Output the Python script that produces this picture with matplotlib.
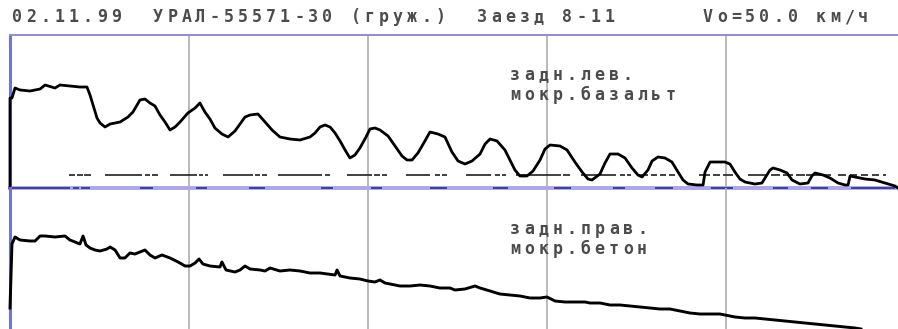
import matplotlib
matplotlib.use('Agg')
import matplotlib.pyplot as plt

# time axis in seconds, force in kN
t_left = [0.000, 0.000, 0.011, 0.028, 0.056, 0.112, 0.168, 0.196, 0.251, 0.279, 0.335, 0.391,
          0.430, 0.447, 0.464, 0.486, 0.503, 0.531, 0.559, 0.615, 0.659, 0.687, 0.726, 0.754,
          0.782, 0.810, 0.838, 0.866, 0.894, 0.922, 0.950, 0.994, 1.034, 1.061, 1.089, 1.117,
          1.145, 1.184, 1.218, 1.257, 1.313, 1.341, 1.385, 1.425, 1.464, 1.508, 1.564, 1.620,
          1.676, 1.704, 1.732, 1.760, 1.788, 1.816, 1.844, 1.872, 1.899, 1.927, 1.955, 1.989,
          2.011, 2.039, 2.067, 2.112, 2.151, 2.190, 2.218, 2.246, 2.279, 2.318, 2.346, 2.391,
          2.430, 2.469, 2.503, 2.542, 2.581, 2.626, 2.654, 2.682, 2.721, 2.765, 2.793, 2.821,
          2.849, 2.888, 2.922, 2.961, 2.989, 3.017, 3.073, 3.112, 3.156, 3.196, 3.229, 3.251,
          3.296, 3.324, 3.352, 3.397, 3.436, 3.475, 3.508, 3.531, 3.564, 3.587, 3.620, 3.659,
          3.698, 3.732, 3.760, 3.788, 3.838, 3.872, 3.883, 3.911, 3.939, 3.994, 4.022, 4.050,
          4.078, 4.106, 4.162, 4.201, 4.218, 4.246, 4.263, 4.302, 4.341, 4.369, 4.413, 4.458,
          4.480, 4.497, 4.542, 4.581, 4.626, 4.665, 4.682, 4.693, 4.721, 4.777, 4.832, 4.888,
          4.944, 4.961]
f_left = [0.0, 9.0, 9.0, 10.0, 9.8, 9.7, 9.9, 10.3, 10.0, 10.3, 10.2, 10.1,
          10.1, 9.3, 8.3, 7.0, 6.5, 6.1, 6.4, 6.6, 7.1, 7.6, 8.8, 8.9,
          8.5, 8.2, 7.3, 6.6, 5.8, 6.1, 6.6, 7.5, 8.0, 8.5, 7.6, 6.9,
          6.0, 5.4, 5.1, 5.7, 7.1, 7.3, 7.4, 6.6, 5.8, 5.1, 4.9, 4.8,
          5.1, 5.5, 6.1, 6.3, 6.1, 5.5, 4.7, 3.8, 3.0, 3.3, 4.0, 5.1,
          5.9, 6.0, 5.8, 5.2, 4.2, 3.2, 2.8, 2.8, 3.5, 4.7, 5.6, 5.4,
          5.1, 3.6, 2.7, 2.4, 2.7, 3.4, 4.4, 4.9, 4.7, 3.8, 2.8, 1.8,
          1.2, 1.2, 1.7, 2.8, 3.9, 4.3, 4.2, 3.8, 2.6, 1.6, 0.9, 0.8,
          1.4, 2.5, 3.4, 3.4, 3.0, 2.0, 1.3, 1.1, 1.8, 2.7, 3.1, 3.0,
          2.6, 1.6, 0.8, 0.4, 0.3, 0.3, 1.6, 2.6, 2.6, 2.6, 2.4, 1.6,
          0.9, 0.6, 0.4, 0.5, 1.0, 1.8, 2.0, 1.8, 1.5, 0.8, 0.4, 0.5,
          1.2, 1.5, 1.3, 1.0, 0.5, 0.3, 0.3, 1.2, 1.1, 0.9, 0.8, 0.5,
          0.2, 0.0]

t_right = [0.000, 0.011, 0.028, 0.056, 0.112, 0.140, 0.168, 0.196, 0.251, 0.307, 0.335, 0.363,
           0.391, 0.408, 0.425, 0.447, 0.475, 0.503, 0.542, 0.559, 0.587, 0.615, 0.642, 0.670,
           0.698, 0.754, 0.782, 0.810, 0.849, 0.894, 0.939, 0.978, 1.006, 1.034, 1.056, 1.078,
           1.117, 1.173, 1.184, 1.207, 1.257, 1.285, 1.313, 1.341, 1.397, 1.425, 1.453, 1.508,
           1.564, 1.620, 1.676, 1.732, 1.816, 1.827, 1.844, 1.899, 1.955, 2.000, 2.039, 2.067,
           2.095, 2.151, 2.179, 2.235, 2.291, 2.346, 2.402, 2.458, 2.486, 2.542, 2.598, 2.626,
           2.682, 2.737, 2.793, 2.849, 2.905, 2.961, 3.000, 3.045, 3.101, 3.156, 3.212, 3.240,
           3.296, 3.352, 3.408, 3.464, 3.520, 3.575, 3.631, 3.687, 3.743, 3.799, 3.855, 3.911,
           3.966, 3.994, 4.050, 4.106, 4.162, 4.218, 4.274, 4.330, 4.385, 4.441, 4.497, 4.553,
           4.609, 4.665, 4.721, 4.754]
f_right = [3.3, 9.7, 10.4, 10.1, 10.0, 10.0, 10.5, 10.5, 10.4, 10.5, 10.1, 9.9,
           9.7, 10.5, 9.6, 9.3, 9.1, 9.0, 9.2, 9.4, 9.1, 8.3, 8.3, 8.8,
           8.7, 9.1, 8.6, 8.3, 8.6, 8.3, 7.9, 7.5, 7.5, 7.8, 8.2, 7.7,
           7.5, 7.4, 7.9, 7.1, 6.9, 7.1, 7.5, 7.2, 7.1, 7.0, 7.3, 7.0,
           7.1, 7.0, 6.8, 6.8, 6.6, 7.1, 6.5, 6.3, 6.2, 6.0, 5.9, 6.1,
           5.8, 5.6, 5.5, 5.5, 5.6, 5.5, 5.3, 5.3, 5.1, 5.2, 5.5, 5.3,
           5.0, 4.7, 4.6, 4.5, 4.3, 4.3, 4.4, 4.0, 3.9, 3.9, 3.9, 3.8,
           3.8, 3.6, 3.6, 3.5, 3.4, 3.3, 3.2, 3.2, 3.0, 2.8, 2.7, 2.7,
           2.7, 2.6, 2.4, 2.3, 2.3, 2.2, 2.1, 2.0, 1.9, 1.8, 1.7, 1.6,
           1.5, 1.4, 1.3, 1.2]

# dashed threshold level in upper channel (start, end) of each dash
threshold_level = 1.3
threshold_dashes = [(0.330, 0.363), (0.374, 0.408), (0.413, 0.453),
                    (0.531, 0.737), (0.754, 0.782), (0.793, 0.827),
                    (0.894, 1.045), (1.056, 1.078), (1.089, 1.106),
                    (1.190, 1.358), (1.369, 1.397), (1.408, 1.436),
                    (1.497, 1.743), (1.760, 1.788),
                    (1.883, 2.022), (2.034, 2.067), (2.078, 2.106),
                    (2.212, 2.346), (2.374, 2.402), (2.413, 2.441),
                    (2.547, 2.687), (2.709, 2.737), (2.749, 2.771),
                    (2.827, 3.078), (3.089, 3.128),
                    (3.190, 3.385), (3.408, 3.436), (3.447, 3.469),
                    (3.508, 3.564), (3.581, 3.615), (3.631, 3.665), (3.682, 3.715),
                    (3.849, 3.911), (3.927, 3.966), (3.983, 4.039),
                    (4.123, 4.235), (4.251, 4.302), (4.318, 4.374), (4.391, 4.441),
                    (4.447, 4.587),
                    (4.626, 4.670), (4.693, 4.732), (4.754, 4.793), (4.816, 4.855), (4.877, 4.894)]

# wheel-lock marks on the channel separator
lock_marks = [(0.0, 0.335), (0.352, 0.385), (0.397, 0.447), (0.726, 0.799), (1.039, 1.101),
              (1.335, 1.425), (1.737, 1.804), (2.017, 2.078), (2.346, 2.441), (2.698, 2.782),
              (3.039, 3.134), (3.369, 3.436), (3.603, 3.704), (3.916, 4.039), (4.263, 4.346),
              (4.475, 4.570), (4.698, 4.944)]

grid_times = [1, 2, 3, 4]
t_max = 4.961
f_max = 15.3

header = "02.11.99  УРАЛ-55571-30 (груж.)  Заезд 8-11      Vo=50.0 км/ч"
label_top = ["задн.лев.", "мокр.базальт"]
label_bot = ["задн.прав.", "мокр.бетон"]

W, H = 898, 329
fig = plt.figure(figsize=(W / 100, H / 100), dpi=100)
ax_top = fig.add_axes([10 / W, 1 - 188 / H, 888 / W, 153 / H])
ax_bot = fig.add_axes([10 / W, 1 - 341 / H, 888 / W, 153 / H])

for ax in (ax_top, ax_bot):
    ax.set_xlim(0, t_max)
    ax.set_ylim(0, f_max)
    ax.axis('off')
    for g in grid_times:
        ax.axvline(g, color='#b4b4b4', lw=1.3, zorder=1)
    ax.axvline(0, color='#7474cc', lw=2.2, zorder=3, clip_on=False)

ax_top.axhline(f_max, color='#8c8cd6', lw=1.4, zorder=3, clip_on=False)
ax_top.axhline(0, color='#a8a8ea', lw=2.8, zorder=3, clip_on=False)
for a, b in lock_marks:
    ax_top.plot([a, b], [0, 0], color='#404098', lw=1.4, zorder=4,
                solid_capstyle='butt', clip_on=False)
for a, b in threshold_dashes:
    ax_top.plot([a, b], [threshold_level, threshold_level], color='#202020',
                lw=1.2, zorder=2, solid_capstyle='butt')

ax_top.plot(t_left, f_left, color='black', lw=2.0, zorder=5, clip_on=False)
ax_bot.plot(t_right, f_right, color='black', lw=2.1, zorder=5, clip_on=False)


def mono_text(s, x0, y, pitch=14.1, size=12):
    # draw text as fixed-pitch cells like the recorder's screen font
    for i, ch in enumerate(s):
        if ch == ' ':
            continue
        fig.text((x0 + pitch * i + pitch / 2) / W, 1 - y / H, ch,
                 ha='center', va='center', fontsize=size, color='#4c4c4c',
                 family='DejaVu Sans Mono', fontweight='bold')


mono_text(header, 10, 17)
mono_text(label_top[0], 508, 75)
mono_text(label_top[1], 508, 95)
mono_text(label_bot[0], 508, 229)
mono_text(label_bot[1], 508, 249)

fig.savefig('out.png', dpi=100, facecolor='white')
